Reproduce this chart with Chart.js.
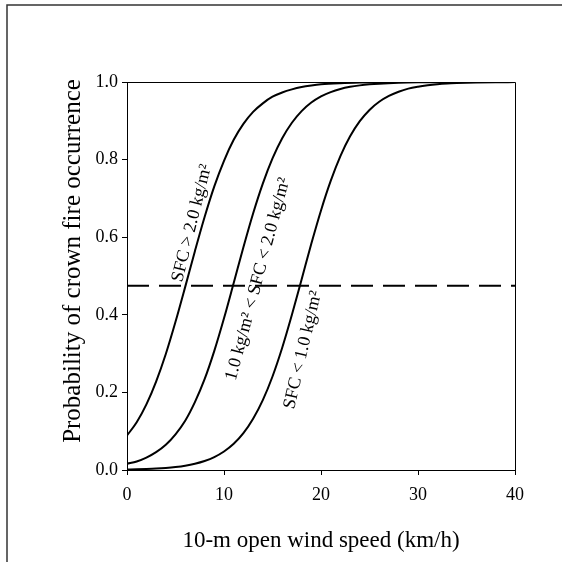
<!DOCTYPE html>
<html>
<head>
<meta charset="utf-8">
<script src="https://cdn.jsdelivr.net/npm/chart.js@4.4.0/dist/chart.umd.min.js"></script>
<style>
  html, body { margin: 0; padding: 0; background: #fff; }
  #wrap { width: 562px; height: 562px; position: relative; }
</style>
</head>
<body>
<div id="wrap"><canvas id="fireChart"></canvas></div>
<script>
// wind speed (km/h) and probability
const windHigh = [0, 1, 2, 3, 4, 5, 6, 7, 8, 9, 10, 11, 12, 13, 14, 15, 16, 17, 18, 19, 20, 22, 24, 26, 28, 30, 35, 40];
const probHigh = [0.089, 0.123, 0.169, 0.228, 0.299, 0.382, 0.472, 0.564, 0.652, 0.731, 0.797, 0.851, 0.892, 0.923, 0.945, 0.962, 0.973, 0.981, 0.987, 0.991, 0.994, 0.997, 0.9986, 0.9993, 0.9997, 0.9998, 1.0, 1.0];

const windMid = [0, 1, 2, 3, 4, 5, 6, 7, 8, 9, 10, 11, 12, 13, 14, 15, 16, 17, 18, 19, 20, 21, 22, 23, 24, 25, 26, 28, 30, 32, 35, 40];
const probMid = [0.016, 0.022, 0.032, 0.046, 0.065, 0.092, 0.127, 0.175, 0.234, 0.307, 0.391, 0.482, 0.574, 0.661, 0.738, 0.803, 0.855, 0.895, 0.925, 0.947, 0.963, 0.974, 0.982, 0.9875, 0.9913, 0.994, 0.9958, 0.998, 0.9991, 0.9995, 0.9998, 1.0];

const windLow = [0, 1, 2, 3, 4, 5, 6, 7, 8, 9, 10, 11, 12, 13, 14, 15, 16, 17, 18, 19, 20, 21, 22, 23, 24, 25, 26, 27, 28, 29, 30, 31, 32, 33, 34, 35, 36, 38, 40];
const probLow = [0.0012, 0.0018, 0.0026, 0.0037, 0.0054, 0.0078, 0.0112, 0.0162, 0.0233, 0.0333, 0.0476, 0.0674, 0.0948, 0.132, 0.180, 0.241, 0.315, 0.400, 0.491, 0.583, 0.669, 0.745, 0.809, 0.860, 0.899, 0.928, 0.949, 0.964, 0.975, 0.983, 0.988, 0.9916, 0.9942, 0.996, 0.9972, 0.9981, 0.9987, 0.9994, 0.9997];

const thresholdX = [0, 40];
const thresholdY = [0.475, 0.475];

const xTicks = [0, 10, 20, 30, 40];
const yTicks = [0, 0.2, 0.4, 0.6, 0.8, 1.0];

const yTitle = 'Probability of crown fire occurrence';
const curveLabels = [
  { text: 'SFC > 2.0 kg/m\u00B2', x: 192, y: 223, angle: -76 },
  { text: '1.0 kg/m\u00B2 < SFC < 2.0 kg/m\u00B2', x: 258, y: 279, angle: -75 },
  { text: 'SFC < 1.0 kg/m\u00B2', x: 303, y: 350, angle: -77 }
];

const toPoints = (xs, ys) => xs.map((x, i) => ({ x: x, y: ys[i] }));

const serif = '"Liberation Serif", "DejaVu Serif", serif';

// frame round the figure, y title and the rotated curve labels
const extras = {
  id: 'extras',
  afterDraw(chart) {
    const c = chart.ctx;
    c.save();
    c.strokeStyle = '#333';
    c.lineWidth = 1.5;
    c.beginPath();
    c.moveTo(562, 5);
    c.lineTo(7, 5);
    c.lineTo(7, 562);
    c.stroke();

    const a = chart.chartArea;
    c.strokeStyle = '#000';
    c.lineWidth = 1;
    c.beginPath();
    c.moveTo(a.left, a.top + 0.5);
    c.lineTo(a.right + 0.5, a.top + 0.5);
    c.lineTo(a.right + 0.5, a.bottom);
    c.stroke();

    c.fillStyle = '#000';
    c.textAlign = 'center';
    c.textBaseline = 'middle';

    c.save();
    c.translate(73, 261);
    c.rotate(-Math.PI / 2);
    c.font = '25px ' + serif;
    c.fillText(yTitle, 0, 0);
    c.restore();

    c.font = '18px ' + serif;
    curveLabels.forEach(l => {
      c.save();
      c.translate(l.x, l.y);
      c.rotate(l.angle * Math.PI / 180);
      c.fillText(l.text, 0, 0);
      c.restore();
    });
    c.restore();
  }
};

const lineStyle = {
  borderColor: '#000',
  borderWidth: 2,
  pointRadius: 0,
  fill: false,
  cubicInterpolationMode: 'monotone'
};

new Chart(document.getElementById('fireChart'), {
  type: 'line',
  data: {
    datasets: [
      Object.assign({ label: 'SFC > 2.0', data: toPoints(windHigh, probHigh) }, lineStyle),
      Object.assign({ label: '1.0 < SFC < 2.0', data: toPoints(windMid, probMid) }, lineStyle),
      Object.assign({ label: 'SFC < 1.0', data: toPoints(windLow, probLow) }, lineStyle),
      {
        label: 'threshold',
        data: toPoints(thresholdX, thresholdY),
        borderColor: '#000',
        borderWidth: 2,
        borderDash: [22, 10],
        pointRadius: 0,
        fill: false
      }
    ]
  },
  options: {
    responsive: true,
    maintainAspectRatio: false,
    animation: false,
    layout: { padding: { left: 0, top: 82, right: 47, bottom: 0 } },
    scales: {
      x: {
        type: 'linear',
        min: 0,
        max: 40,
        afterBuildTicks: s => { s.ticks = xTicks.map(v => ({ value: v })); },
        afterFit: s => { s.height = 92; },
        ticks: {
          color: '#000',
          font: { family: serif, size: 18 },
          padding: 9,
          maxRotation: 0
        },
        grid: { drawOnChartArea: false, color: '#000', tickLength: 5 },
        border: { color: '#000', width: 1 },
        title: {
          display: true,
          text: '10-m open wind speed (km/h)',
          color: '#000',
          font: { family: serif, size: 23 },
          padding: { top: 0, bottom: 7 }
        }
      },
      y: {
        min: 0,
        max: 1,
        afterBuildTicks: s => { s.ticks = yTicks.map(v => ({ value: v })); },
        afterFit: s => { s.width = 127; },
        ticks: {
          color: '#000',
          font: { family: serif, size: 18 },
          padding: 4,
          callback: v => v.toFixed(1)
        },
        grid: { drawOnChartArea: false, color: '#000', tickLength: 5 },
        border: { color: '#000', width: 1 }
      }
    },
    plugins: {
      legend: { display: false },
      tooltip: { enabled: false }
    }
  },
  plugins: [extras]
});
</script>
</body>
</html>
